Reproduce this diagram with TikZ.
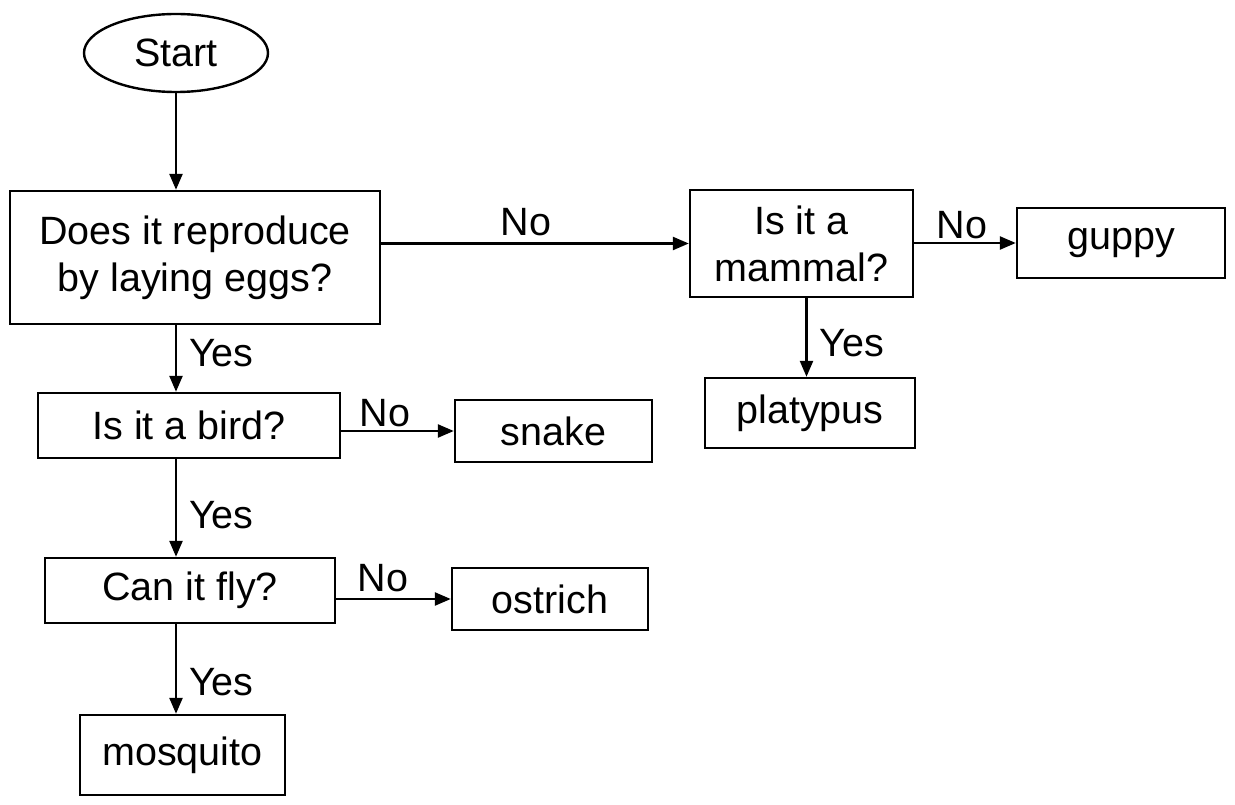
\documentclass[tikz,border=0pt]{standalone}
\usepackage{fontspec}
\setmainfont{Liberation Sans}
\usetikzlibrary{arrows.meta,shapes.geometric}
\begin{document}
\begin{tikzpicture}[x=1pt,y=-1pt,
  every node/.style={font=\fontsize{39.5}{47}\selectfont},
  box/.style={draw,line width=2.4pt,inner sep=0pt,align=center},
  oval/.style={draw,ellipse,line width=2.4pt,inner sep=0pt},
  arr/.style={line width=2.4pt,-{Triangle[length=16pt,width=13pt]}},
  lbl/.style={inner sep=3pt},
  vlbl/.style={inner sep=0pt,anchor=west,xshift=12pt}]
\useasboundingbox (0,0) rectangle (1235,805);
\node[oval,minimum width=184pt,minimum height=78pt] (start) at (176,53) {Start};
\node[box,minimum width=370pt,minimum height=133pt] (q1) at (195,257.5) {Does it reproduce\\by laying eggs?};
\node[box,minimum width=223pt,minimum height=107pt] (mammal) at (801.5,243.5) {Is it a\\mammal?};
\node[box,minimum width=208pt,minimum height=70pt] (guppy) at (1121,243) {guppy};
\node[box,minimum width=210pt,minimum height=70pt] (platypus) at (810,413) {platypus};
\node[box,minimum width=302pt,minimum height=65pt] (bird) at (189,425.5) {Is it a bird?};
\node[box,minimum width=197pt,minimum height=62pt] (snake) at (553.5,431) {snake};
\node[box,minimum width=290pt,minimum height=65pt] (fly) at (190,590.5) {Can it fly?};
\node[box,minimum width=196pt,minimum height=62pt] (ostrich) at (550,599) {ostrich};
\node[box,minimum width=205pt,minimum height=80pt] (mosquito) at (182.5,755) {mosquito};

\draw[arr] (start.south) -- (start.south |- q1.north);
\draw[arr] (q1.south -| start.south) -- node[vlbl,pos=0.42] {Yes} (bird.north -| start.south);
\draw[arr] (bird.south -| start.south) -- node[vlbl,pos=0.57] {Yes} (fly.north -| start.south);
\draw[arr] (fly.south -| start.south) -- node[vlbl,pos=0.65] {Yes} (mosquito.north -| start.south);
\draw[arr] (q1.east |- mammal.west) -- node[lbl,anchor=south,pos=0.47,yshift=3pt] {No} (mammal.west);
\draw[arr] (mammal.east |- guppy.west) -- node[lbl,anchor=south,pos=0.47] {No} (guppy.west);
\draw[arr] ([xshift=5pt]mammal.south) -- node[vlbl,pos=0.57] {Yes} ([xshift=5pt]mammal.south |- platypus.north);
\draw[arr] (bird.east |- snake.west) -- node[lbl,anchor=south,pos=0.39] {No} (snake.west);
\draw[arr] (fly.east |- ostrich.west) -- node[lbl,anchor=south,pos=0.41,yshift=3pt] {No} (ostrich.west);
\end{tikzpicture}
\end{document}
